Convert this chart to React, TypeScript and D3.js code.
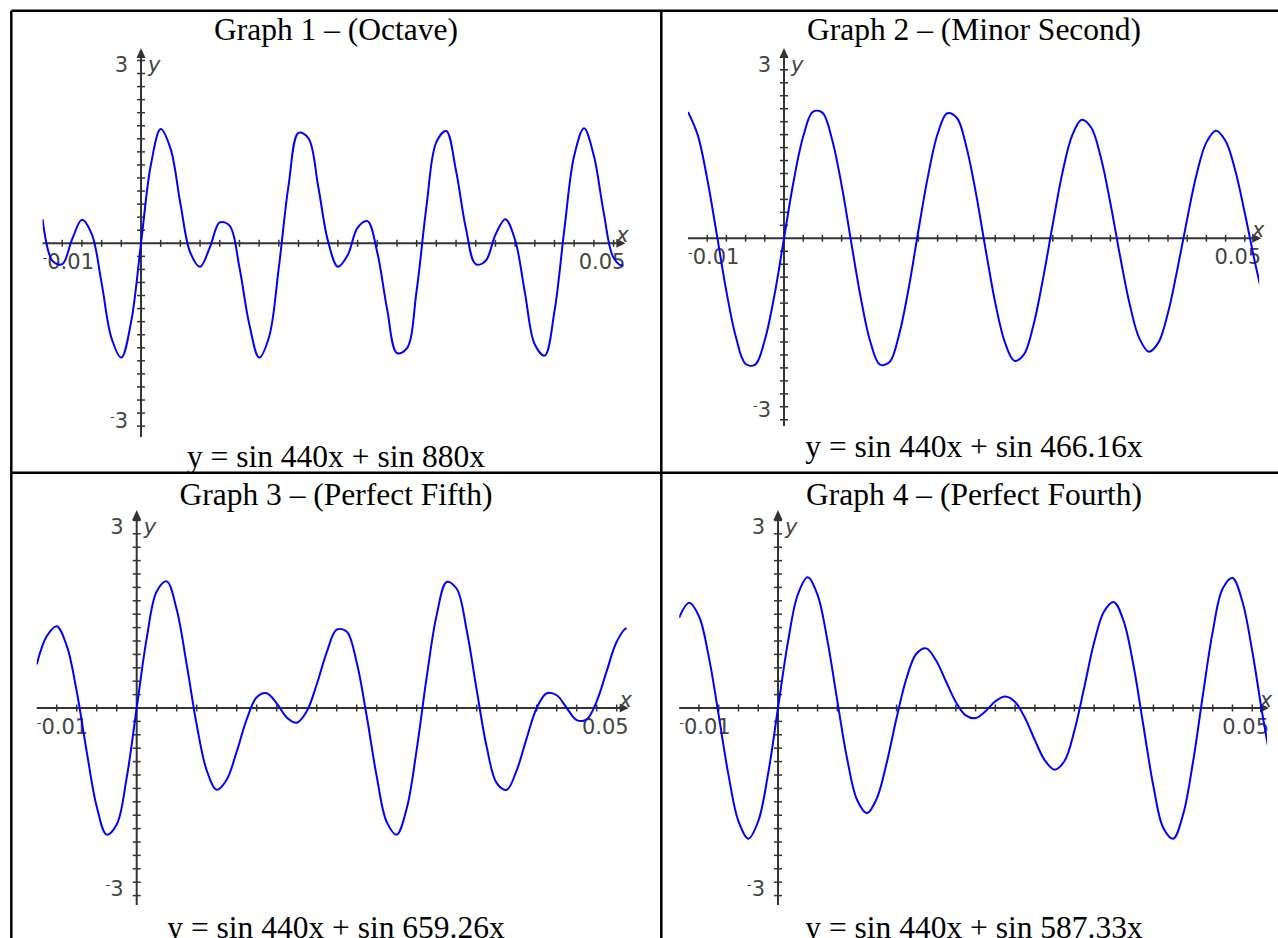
import React from "react";
import * as d3 from "d3";

// x positions the curves were read at (seconds)
const sampleX = [
  -0.010, -0.009, -0.008, -0.007, -0.006, -0.005, -0.004, -0.003, -0.002, -0.001,
  0.000, 0.001, 0.002, 0.003, 0.004, 0.005, 0.006, 0.007, 0.008, 0.009,
  0.010, 0.011, 0.012, 0.013, 0.014, 0.015, 0.016, 0.017, 0.018, 0.019,
  0.020, 0.021, 0.022, 0.023, 0.024, 0.025, 0.026, 0.027, 0.028, 0.029,
  0.030, 0.031, 0.032, 0.033, 0.034, 0.035, 0.036, 0.037, 0.038, 0.039,
  0.040, 0.041, 0.042, 0.043, 0.044, 0.045, 0.046, 0.047, 0.048, 0.049,
  0.050,
];

const octaveY = [
  0.37, -0.27, -0.32, 0.06, 0.36, 0.14, -0.61, -1.45, -1.75, -1.20,
  0.00, 1.20, 1.75, 1.45, 0.61, -0.14, -0.36, -0.06, 0.32, 0.27,
  -0.37, -1.24, -1.75, -1.44, -0.37, 0.90, 1.69, 1.61, 0.87, 0.03,
  -0.36, -0.18, 0.24, 0.34, -0.14, -1.01, -1.68, -1.61, -0.72, 0.57,
  1.55, 1.72, 1.11, 0.23, -0.32, -0.27, 0.13, 0.37, 0.05, -0.76,
  -1.55, -1.72, -1.04, 0.21, 1.34, 1.76, 1.34, 0.47, -0.22, -0.34,
  0.01,
];

const minorSecondY = [
  1.95, 1.60, 0.92, 0.06, -0.82, -1.53, -1.94, -1.95, -1.57, -0.88,
  0.00, 0.88, 1.57, 1.95, 1.94, 1.53, 0.82, -0.06, -0.92, -1.60,
  -1.95, -1.91, -1.48, -0.76, 0.12, 0.96, 1.61, 1.93, 1.86, 1.41,
  0.69, -0.17, -0.99, -1.60, -1.89, -1.79, -1.33, -0.61, 0.22, 1.01,
  1.58, 1.83, 1.71, 1.25, 0.54, -0.27, -1.01, -1.54, -1.75, -1.61,
  -1.15, -0.46, 0.30, 1.00, 1.48, 1.66, 1.50, 1.05, 0.39, -0.33,
  -0.98,
];

const perfectFifthY = [
  0.65, 1.07, 1.22, 0.93, 0.25, -0.65, -1.47, -1.89, -1.74, -1.04,
  0.00, 1.04, 1.74, 1.89, 1.47, 0.65, -0.25, -0.93, -1.22, -1.07,
  -0.65, -0.17, 0.16, 0.22, 0.07, -0.14, -0.22, -0.05, 0.35, 0.83,
  1.17, 1.14, 0.68, -0.12, -1.02, -1.70, -1.89, -1.50, -0.62, 0.46,
  1.39, 1.88, 1.78, 1.16, 0.27, -0.58, -1.12, -1.22, -0.93, -0.45,
  0.00, 0.22, 0.19, 0.00, -0.18, -0.17, 0.10, 0.55, 0.99, 1.19,
  0.99,
];

const perfectFourthY = [
  1.35, 1.57, 1.37, 0.76, -0.11, -1.01, -1.69, -1.95, -1.69, -0.98,
  0.00, 0.98, 1.69, 1.95, 1.69, 1.01, 0.11, -0.76, -1.37, -1.57,
  -1.35, -0.82, -0.15, 0.44, 0.81, 0.89, 0.71, 0.40, 0.09, -0.11,
  -0.15, -0.05, 0.10, 0.17, 0.09, -0.15, -0.48, -0.78, -0.92, -0.79,
  -0.34, 0.31, 0.98, 1.44, 1.58, 1.29, 0.62, -0.28, -1.17, -1.79,
  -1.95, -1.59, -0.81, 0.19, 1.14, 1.78, 1.94, 1.59, 0.85, -0.07,
  -0.90,
];

const titles = [
  "Graph 1 – (Octave)",
  "Graph 2 – (Minor Second)",
  "Graph 3 – (Perfect Fifth)",
  "Graph 4 – (Perfect Fourth)",
];
const equations = [
  "y = sin 440x + sin 880x",
  "y = sin 440x + sin 466.16x",
  "y = sin 440x + sin 659.26x",
  "y = sin 440x + sin 587.33x",
];
const xEndLabels = ["-0.01", "0.05"];
const yEndLabels = ["3", "-3"];
const axisNames = ["x", "y"];

const seriesList = [octaveY, minorSecondY, perfectFifthY, perfectFourthY];

// where each screenshot sits in its table cell
const panels = [
  { cx: 336, titleY: 40, eqY: 467, zeroX: 141, ux: 9845, xMax: 0.049, zeroY: 243.3, uy: 65.3, top: 48, bottom: 437 },
  { cx: 974, titleY: 40, eqY: 457, zeroX: 784, ux: 9600, xMax: 0.0495, zeroY: 238.3, uy: 64.8, top: 48, bottom: 426 },
  { cx: 336, titleY: 505, eqY: 938, zeroX: 136.7, ux: 10000, xMax: 0.049, zeroY: 708, uy: 67, top: 510, bottom: 905 },
  { cx: 974, titleY: 505, eqY: 938, zeroX: 778, ux: 9880, xMax: 0.0495, zeroY: 708, uy: 67, top: 510, bottom: 905 },
];

const serif = "'Liberation Serif', 'Times New Roman', serif";
const sans = "'DejaVu Sans', Verdana, sans-serif";
const axisColor = "#333";
const labelColor = "#444";

// TI style label: small raised minus sign
function SignedLabel({ value, ...rest }: any) {
  const neg = value.startsWith("-");
  return (
    <text {...rest}>
      {neg && <tspan fontSize={13} dy={-7}>-</tspan>}
      <tspan dy={neg ? 7 : 0}>{neg ? value.slice(1) : value}</tspan>
    </text>
  );
}

function Panel({ p, values, idx }: any) {
  const x = d3.scaleLinear().domain([-0.01, p.xMax]).range([p.zeroX - 0.01 * p.ux, p.zeroX + p.xMax * p.ux]);
  const y = d3.scaleLinear().domain([-3, 3]).range([p.zeroY + 3 * p.uy, p.zeroY - 3 * p.uy]);
  const line = d3.line<number>()
    .x((d, i) => x(sampleX[i]))
    .y((d) => y(d))
    .curve(d3.curveCatmullRom.alpha(0.5));

  const xTicks = d3.range(-4, Math.floor(p.xMax / 0.002 + 1e-6) + 1).filter((i) => i !== 0).map((i) => i * 0.002);
  const yTicks = d3.range(-14, 15).filter((i) => i !== 0).map((i) => i * 0.2);
  const x0 = x(0), y0 = y(0);
  const xL = x(-0.01), xR = x(p.xMax);

  return (
    <g>
      <defs>
        <clipPath id={"clip" + idx}>
          <rect x={xL} y={p.top - 20} width={xR - xL} height={p.bottom - p.top + 40} />
        </clipPath>
      </defs>
      <text x={p.cx} y={p.titleY} textAnchor="middle" fontFamily={serif} fontSize={31.5} fill="#000">{titles[idx]}</text>
      <text x={p.cx} y={p.eqY} textAnchor="middle" fontFamily={serif} fontSize={31.5} fill="#000">{equations[idx]}</text>

      {/* axes */}
      <line x1={xL} y1={y0} x2={xR} y2={y0} stroke={axisColor} strokeWidth={2} />
      <line x1={x0} y1={p.top + 4} x2={x0} y2={p.bottom} stroke={axisColor} strokeWidth={2} />
      <polygon points={`${x0},${p.top} ${x0 - 4.5},${p.top + 10} ${x0 + 4.5},${p.top + 10}`} fill={axisColor} />
      <polygon points={`${xR + 2},${y0} ${xR - 7},${y0 - 4.5} ${xR - 7},${y0 + 4.5}`} fill={axisColor} />
      {xTicks.map((t) => (
        <line key={"xt" + t} x1={x(t)} x2={x(t)} y1={y0 - 3.5} y2={y0 + 3.5} stroke={axisColor} strokeWidth={1.5} />
      ))}
      {yTicks.map((t) => (
        <line key={"yt" + t} x1={x0 - 4} x2={x0 + 4} y1={y(t)} y2={y(t)} stroke={axisColor} strokeWidth={1.5} />
      ))}

      {/* end labels */}
      <SignedLabel value={xEndLabels[0]} x={xL} y={y0 + 26} fontFamily={sans} fontSize={21} fill={labelColor} textAnchor="start" />
      <SignedLabel value={xEndLabels[1]} x={xR + 2} y={y0 + 26} fontFamily={sans} fontSize={21} fill={labelColor} textAnchor="end" />
      <SignedLabel value={yEndLabels[0]} x={x0 - 13} y={p.top + 24} fontFamily={sans} fontSize={21} fill={labelColor} textAnchor="end" />
      <SignedLabel value={yEndLabels[1]} x={x0 - 13} y={p.bottom - 9} fontFamily={sans} fontSize={21} fill={labelColor} textAnchor="end" />
      <text x={xR - 1} y={y0 - 1} textAnchor="middle" fontFamily={sans} fontStyle="italic" fontSize={21} fill={labelColor}>{axisNames[0]}</text>
      <text x={x0 + 7} y={p.top + 24} textAnchor="start" fontFamily={sans} fontStyle="italic" fontSize={21} fill={labelColor}>{axisNames[1]}</text>

      {/* curve */}
      <path d={line(values) || ""} fill="none" stroke="#0000ff" strokeWidth={2} clipPath={`url(#clip${idx})`} />
    </g>
  );
}

export default function App() {
  const border = { stroke: "#000", strokeWidth: 2.5 };
  return (
    <svg width={1278} height={938} style={{ position: "absolute", left: 0, top: 0, background: "#fff" }}>
      <rect x={0} y={0} width={1278} height={938} fill="#fff" />
      {panels.map((p, i) => (
        <Panel key={i} p={p} values={seriesList[i]} idx={i} />
      ))}
      <line x1={11.3} y1={10.7} x2={1278} y2={10.7} {...border} />
      <line x1={11.3} y1={10.7} x2={11.3} y2={938} {...border} />
      <line x1={661.3} y1={10.7} x2={661.3} y2={938} {...border} />
      <line x1={11.3} y1={472.7} x2={1278} y2={472.7} {...border} />
    </svg>
  );
}
